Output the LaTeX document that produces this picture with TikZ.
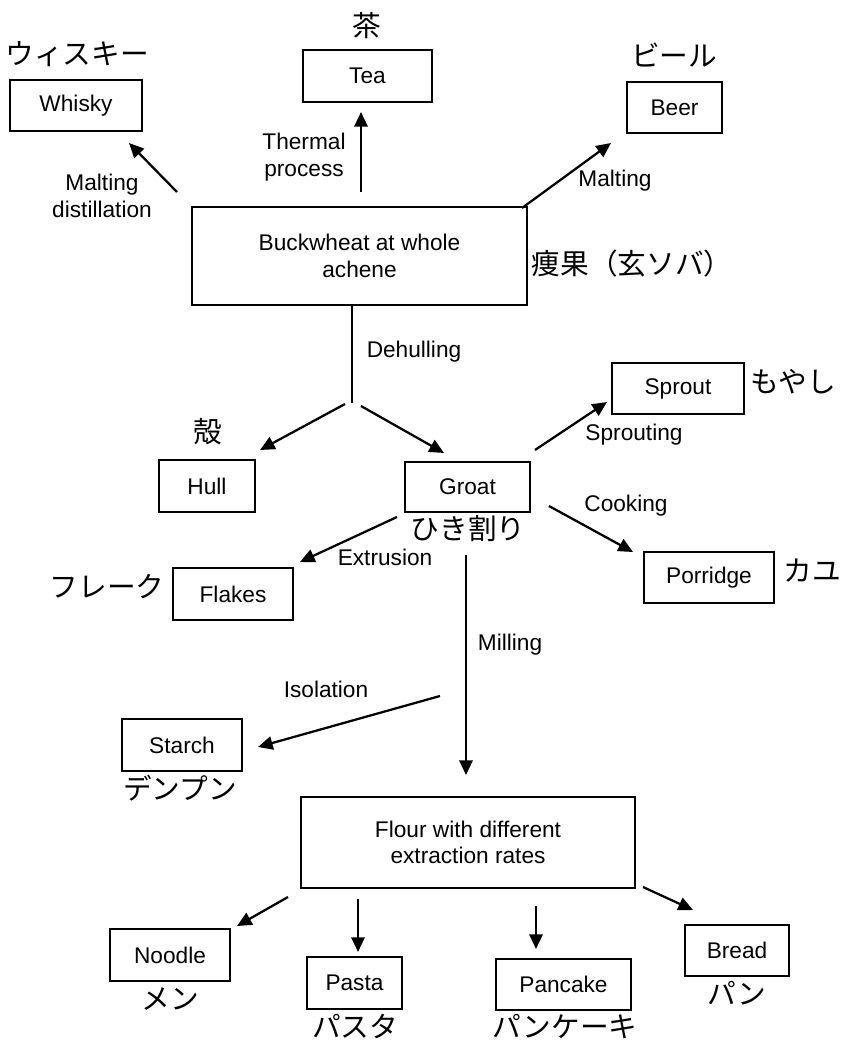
\documentclass[tikz,border=0pt]{standalone}
\usepackage{fontspec}
\setmainfont{Liberation Sans}
\newfontfamily\jpfam{Noto Sans CJK JP}
\usetikzlibrary{arrows.meta}
\newcommand\enfont{\fontsize{17}{20}\selectfont}
\newcommand\jpfont{\jpfam\fontsize{21.5}{24}\selectfont}
\begin{document}
\begin{tikzpicture}[x=0.75pt,y=-0.75pt,
  box/.style={draw, line width=1.7pt, inner sep=0pt, font=\enfont, align=center},
  lab/.style={font=\enfont, inner sep=0pt, align=center, text height=0.72em, text depth=0.21em},
  labtwo/.style={font=\enfont, inner sep=0pt, align=center},
  jlab/.style={font=\jpfont, inner sep=0pt, text height=0.8em, text depth=0.12em},
  arr/.style={line width=1.7pt, -{Triangle[length=11pt,width=10pt]}},
  ln/.style={line width=1.7pt}]
\useasboundingbox (0,0) rectangle (844,1045);

% boxes
\node[box, minimum width=99pt, minimum height=38.25pt] (whisky) at (76,105.5) {Whisky};
\node[box, minimum width=96.75pt, minimum height=39pt] (tea) at (367.5,76) {Tea};
\node[box, minimum width=71.25pt, minimum height=38.25pt] (beer) at (674.5,107.5) {Beer};
\node[box, minimum width=251.25pt, minimum height=73.5pt] (buck) at (359.5,256) {Buckwheat at whole\\achene};
\node[box, minimum width=72pt, minimum height=39pt] (hull) at (207,486) {Hull};
\node[box, minimum width=93.75pt, minimum height=37.5pt] (groat) at (467.5,487) {Groat};
\node[box, minimum width=99pt, minimum height=38.25pt] (sprout) at (678,388.5) {Sprout};
\node[box, minimum width=97.5pt, minimum height=38.25pt] (porridge) at (709,577.5) {Porridge};
\node[box, minimum width=90pt, minimum height=39pt] (flakes) at (233,594) {Flakes};
\node[box, minimum width=90pt, minimum height=39pt] (starch) at (182,745) {Starch};
\node[box, minimum width=250.5pt, minimum height=68.25pt] (flour) at (468,842.5) {Flour with different\\extraction rates};
\node[box, minimum width=90pt, minimum height=39pt] (noodle) at (170,955) {Noodle};
\node[box, minimum width=71.25pt, minimum height=39pt] (pasta) at (354.5,983) {Pasta};
\node[box, minimum width=101.25pt, minimum height=38.25pt] (pancake) at (563.5,984.5) {Pancake};
\node[box, minimum width=78pt, minimum height=38.25pt] (bread) at (737,950.5) {Bread};

% Japanese labels
\node[jlab] (jwhisky) at (77,60) {ウィスキー};
\node[jlab] (jtea) at (367,32) {茶};
\node[jlab] (jbeer) at (674,62) {ビール};
\node[jlab] (jbuck) at (632,270) {痩果（玄ソバ）};
\node[jlab] (jhull) at (208,438) {殻};
\node[jlab] (jsprout) at (793,388) {もやし};
\node[jlab] (jgroat) at (468,535) {ひき割り};
\node[jlab] (jflakes) at (107,593) {フレーク};
\node[jlab] (jporridge) at (812,577) {カユ};
\node[jlab] (jstarch) at (180,795) {デンプン};
\node[jlab] (jnoodle) at (170,1005) {メン};
\node[jlab] (jpasta) at (355,1033) {パスタ};
\node[jlab] (jpancake) at (565,1033) {パンケーキ};
\node[jlab] (jbread) at (737,1000) {パン};

% process labels
\node[labtwo] (lmd) at (102,196) {Malting\\distillation};
\node[labtwo] (lth) at (304,157) {Thermal\\process};
\node[lab] (lmalt) at (615,183) {Malting};
\node[lab] (ldeh) at (414,354) {Dehulling};
\node[lab] (lspr) at (634,437) {Sprouting};
\node[lab] (lcook) at (626,508) {Cooking};
\node[lab] (lext) at (385,562) {Extrusion};
\node[lab] (lmill) at (510,647) {Milling};
\node[lab] (liso) at (326,694) {Isolation};

% connector end points
\coordinate (w0) at (177,192); \coordinate (w1) at (129,143);
\coordinate (t0) at (361,192); \coordinate (t1) at (361,112);
\coordinate (b0) at (522,208); \coordinate (b1) at (611,143);
\coordinate (d0) at (352,305); \coordinate (d1) at (352,403);
\coordinate (h0) at (345,404); \coordinate (h1) at (260,450);
\coordinate (g0) at (361,406); \coordinate (g1) at (444,453);
\coordinate (s0) at (535,450); \coordinate (s1) at (607,402);
\coordinate (c0) at (549,506); \coordinate (c1) at (633,552);
\coordinate (e0) at (397,517); \coordinate (e1) at (300,562);
\coordinate (m0) at (466,555); \coordinate (m1) at (466,775);
\coordinate (i0) at (440,696); \coordinate (i1) at (258,747);
\coordinate (n0) at (288,897); \coordinate (n1) at (237,926);
\coordinate (p0) at (358,899); \coordinate (p1) at (358,952);
\coordinate (k0) at (536,906); \coordinate (k1) at (536,949);
\coordinate (r0) at (643,887); \coordinate (r1) at (693,910);

\draw[arr] (w0) -- (w1);
\draw[arr] (t0) -- (t1);
\draw[arr] (b0) -- (b1);
\draw[ln] (d0) -- (d1);
\draw[arr] (h0) -- (h1);
\draw[arr] (g0) -- (g1);
\draw[arr] (s0) -- (s1);
\draw[arr] (c0) -- (c1);
\draw[arr] (e0) -- (e1);
\draw[arr] (m0) -- (m1);
\draw[arr] (i0) -- (i1);
\draw[arr] (n0) -- (n1);
\draw[arr] (p0) -- (p1);
\draw[arr] (k0) -- (k1);
\draw[arr] (r0) -- (r1);
\end{tikzpicture}
\end{document}
